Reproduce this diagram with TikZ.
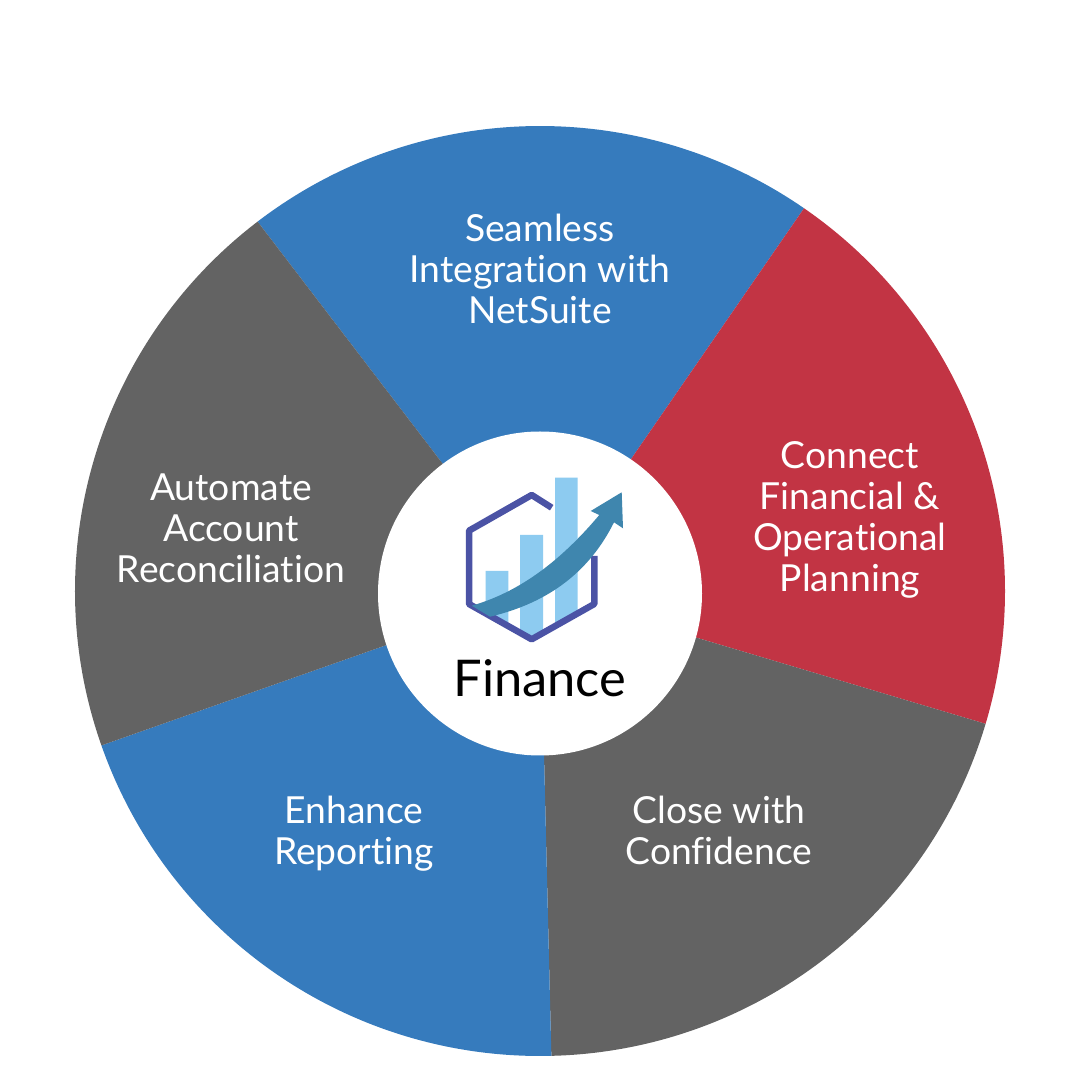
\documentclass[tikz,border=0pt]{standalone}
\usepackage{fontspec}
\setmainfont{Lato}[Ligatures=NoCommon]
\definecolor{wheelblue}{HTML}{367BBD}
\definecolor{wheelred}{HTML}{C23444}
\definecolor{wheelgray}{HTML}{636363}
\definecolor{hexblue}{HTML}{4B53A5}
\definecolor{barblue}{HTML}{8DCBF0}
\definecolor{arrowblue}{HTML}{3F86AE}
\tikzset{
  seclabel/.style={text=white, align=center, font=\fontsize{10.6}{11.65}\selectfont},
}

\begin{document}
\begin{tikzpicture}
\useasboundingbox (-5.40,-4.895) rectangle (5.40,5.905);
\coordinate (wheelc) at (0,-0.005);

% Sectors of the wheel
\fill[wheelblue] (wheelc) -- ++(55.4:4.65) arc (55.4:127.4:4.65) -- cycle;
\fill[wheelred] (wheelc) -- ++(-16.6:4.65) arc (-16.6:55.4:4.65) -- cycle;
\fill[wheelgray] (wheelc) -- ++(-88.6:4.65) arc (-88.6:-16.6:4.65) -- cycle;
\fill[wheelblue] (wheelc) -- ++(-160.6:4.65) arc (-160.6:-88.6:4.65) -- cycle;
\fill[wheelgray] (wheelc) -- ++(127.4:4.65) arc (127.4:199.4:4.65) -- cycle;

% Hub
\fill[white] (0,-0.03) circle (1.62);

% Bars of the icon
\fill[barblue] (-0.543,0.195) -- (-0.317,0.195) -- (-0.317,-0.357) -- (-0.543,-0.229) -- cycle;
\fill[barblue] (-0.2,0.555) -- (0.03,0.555) -- (0.03,-0.424) -- (-0.083,-0.488) -- (-0.2,-0.422) -- cycle;
\fill[barblue] (0.15,1.128) -- (0.377,1.128) -- (0.377,-0.229) -- (0.15,-0.357) -- cycle;

% Hexagon of the icon
\draw[hexblue, line width=0.065cm, line join=round]
  (0.117,0.828) -- (-0.083,0.955) -- (-0.71,0.598) -- (-0.71,-0.135)
  -- (-0.083,-0.488) -- (0.543,-0.135) -- (0.543,0.345);

% Rising arrow of the icon
\fill[arrowblue] (-0.683,-0.152) .. controls (-0.15,0.0) and (0.26,0.36) .. (0.593,0.755)
  -- (0.507,0.795) -- (0.817,0.982) -- (0.83,0.622) -- (0.74,0.682)
  .. controls (0.5,0.2) and (0.1,-0.12) .. (-0.5,-0.262) -- cycle;

% Labels
\node[seclabel] (seamless) at (0,3.22) {Seamless\\Integration with\\NetSuite};
\node[seclabel] (connect) at (3.10,0.71) {Connect\\Financial \&\\Operational\\Planning};
\node[seclabel] (close) at (1.79,-2.40) {Close with\\Confidence};
\node[seclabel] (enhance) at (-1.86,-2.43) {Enhance\\Reporting};
\node[seclabel] (automate) at (-3.09,0.62) {Automate\\Account\\Reconciliation};
\node[font=\fontsize{14.4}{16}\selectfont, text=black] (finance) at (0,-0.875) {Finance};

\end{tikzpicture}
\end{document}
